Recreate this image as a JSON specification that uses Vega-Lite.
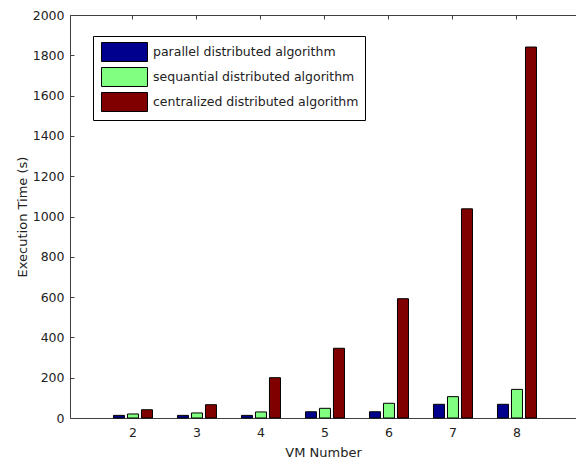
{
  "$schema": "https://vega.github.io/schema/vega-lite/v6.json",
  "autosize": {"type": "none"},
  "padding": {"left": 70, "top": 15, "right": 0, "bottom": 44},
  "width": 506,
  "height": 403,
  "background": "white",
  "config": {
    "view": {"stroke": null},
    "font": "DejaVu Sans",
    "axis": {
      "labelFont": "DejaVu Sans",
      "labelFontSize": 12.5,
      "labelColor": "#222222",
      "titleFont": "DejaVu Sans",
      "titleFontSize": 13,
      "titleFontWeight": "normal",
      "titleColor": "#222222",
      "grid": false,
      "domain": true,
      "domainColor": "#404040",
      "domainWidth": 1,
      "tickColor": "#404040",
      "tickSize": -4
    }
  },
  "data": {
    "values": [
      {"vm": "2", "algorithm": "parallel distributed algorithm", "time": 13},
      {"vm": "3", "algorithm": "parallel distributed algorithm", "time": 13},
      {"vm": "4", "algorithm": "parallel distributed algorithm", "time": 13},
      {"vm": "5", "algorithm": "parallel distributed algorithm", "time": 31},
      {"vm": "6", "algorithm": "parallel distributed algorithm", "time": 31},
      {"vm": "7", "algorithm": "parallel distributed algorithm", "time": 68},
      {"vm": "8", "algorithm": "parallel distributed algorithm", "time": 68},
      {"vm": "2", "algorithm": "sequantial distributed algorithm", "time": 20},
      {"vm": "3", "algorithm": "sequantial distributed algorithm", "time": 25},
      {"vm": "4", "algorithm": "sequantial distributed algorithm", "time": 30},
      {"vm": "5", "algorithm": "sequantial distributed algorithm", "time": 48},
      {"vm": "6", "algorithm": "sequantial distributed algorithm", "time": 73},
      {"vm": "7", "algorithm": "sequantial distributed algorithm", "time": 106},
      {"vm": "8", "algorithm": "sequantial distributed algorithm", "time": 142},
      {"vm": "2", "algorithm": "centralized distributed algorithm", "time": 41},
      {"vm": "3", "algorithm": "centralized distributed algorithm", "time": 66},
      {"vm": "4", "algorithm": "centralized distributed algorithm", "time": 200},
      {"vm": "5", "algorithm": "centralized distributed algorithm", "time": 346},
      {"vm": "6", "algorithm": "centralized distributed algorithm", "time": 592},
      {"vm": "7", "algorithm": "centralized distributed algorithm", "time": 1038},
      {"vm": "8", "algorithm": "centralized distributed algorithm", "time": 1841}
    ]
  },
  "resolve": {"axis": {"x": "independent", "y": "independent"}},
  "layer": [
    {
      "mark": {"type": "bar", "stroke": "#000000", "strokeWidth": 1},
      "encoding": {
        "x": {
          "field": "vm",
          "type": "nominal",
          "scale": {"domain": ["2", "3", "4", "5", "6", "7", "8"], "paddingInner": 0, "paddingOuter": 0.453, "align": 0.534},
          "axis": {"title": "VM Number", "labelAngle": 0, "labelPadding": 12, "titlePadding": 8}
        },
        "xOffset": {
          "field": "algorithm",
          "type": "nominal",
          "scale": {
            "domain": ["parallel distributed algorithm", "sequantial distributed algorithm", "centralized distributed algorithm"],
            "paddingInner": 0.214,
            "paddingOuter": 0.893
          }
        },
        "y": {
          "field": "time",
          "type": "quantitative",
          "scale": {"domain": [0, 2000], "nice": false},
          "axis": {"title": "Execution Time (s)", "format": "d", "values": [0, 200, 400, 600, 800, 1000, 1200, 1400, 1600, 1800, 2000], "labelPadding": 10, "titlePadding": 3}
        },
        "color": {
          "field": "algorithm",
          "type": "nominal",
          "scale": {
            "domain": ["parallel distributed algorithm", "sequantial distributed algorithm", "centralized distributed algorithm"],
            "range": ["#00008f", "#80ff80", "#800000"]
          },
          "legend": {
            "title": null,
            "orient": "none",
            "legendX": 23,
            "legendY": 21,
            "padding": 6,
            "strokeColor": "#000000",
            "fillColor": "#ffffff",
            "symbolType": "M-0.79,-1H4.05V1H-0.79Z",
            "symbolSize": 361,
            "symbolStrokeColor": "#000000",
            "symbolStrokeWidth": 1,
            "symbolOpacity": 1,
            "labelFont": "DejaVu Sans",
            "labelFontSize": 12.5,
            "labelColor": "#222222",
            "labelOffset": 34,
            "rowPadding": 1,
            "labelLimit": 400
          }
        }
      }
    },
    {
      "mark": {"type": "bar", "opacity": 0},
      "encoding": {
        "x": {
          "field": "vm",
          "type": "nominal",
          "axis": {"orient": "top", "labels": false, "title": null}
        },
        "y": {
          "field": "time",
          "type": "quantitative",
          "axis": null
        }
      }
    }
  ]
}
